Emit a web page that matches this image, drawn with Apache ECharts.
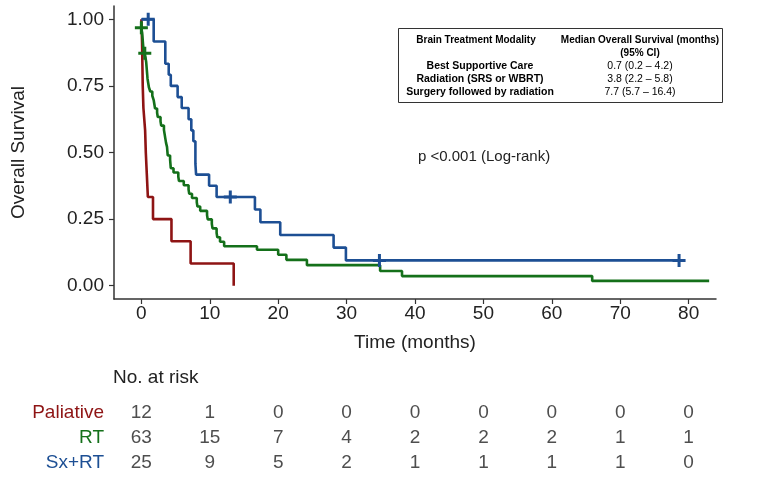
<!DOCTYPE html>
<html><head><meta charset="utf-8">
<script src="https://cdn.jsdelivr.net/npm/echarts@6/dist/echarts.min.js"></script>
<style>html,body{margin:0;padding:0;background:#fff}#c{width:762px;height:478px}</style>
</head><body><div id="c"></div>
<script>
// ---- data ----
const groups = ['Paliative', 'RT', 'Sx+RT'];
const timeTicks = [0, 10, 20, 30, 40, 50, 60, 70, 80];
const survTicks = [0, 0.25, 0.5, 0.75, 1];

const palTime = [0, 0.1, 0.15, 0.2, 0.3, 0.55, 0.65, 0.8, 0.95, 1.7, 4.4, 7.2, 13.5];
const palSurv = [1, 0.917, 0.833, 0.75, 0.667, 0.583, 0.5, 0.417, 0.333, 0.25, 0.167, 0.083, 0];

const rtTime = [0, 0.1, 0.15, 0.2, 0.25, 0.3, 0.4, 0.6, 0.7, 0.75,
                0.8, 0.85, 0.9, 1.0, 1.1, 1.3, 1.6, 1.8, 1.9, 2.0,
                2.3, 2.4, 2.8, 2.9, 3.3, 3.4, 3.5, 3.6, 3.75, 3.8,
                3.85, 4.2, 4.25, 4.3, 4.7, 5.4, 5.5, 6.2, 6.9, 7.0,
                7.4, 8.1, 8.2, 8.6, 9.6, 9.7, 10.3, 10.4, 11.0, 11.1,
                11.5, 12.1, 16.9, 20.0, 21.2, 24.2, 34.9, 38.1, 65.9, 83.0];
const rtSurv = [0.968, 0.952, 0.937, 0.921, 0.905, 0.889, 0.873, 0.857, 0.841, 0.825,
                0.809, 0.793, 0.777, 0.761, 0.745, 0.729, 0.713, 0.697, 0.681, 0.665,
                0.649, 0.633, 0.617, 0.601, 0.585, 0.569, 0.553, 0.537, 0.521, 0.505,
                0.489, 0.473, 0.457, 0.441, 0.425, 0.409, 0.393, 0.377, 0.361, 0.345,
                0.329, 0.313, 0.297, 0.281, 0.265, 0.249, 0.232, 0.215, 0.198, 0.182,
                0.165, 0.148, 0.135, 0.116, 0.097, 0.077, 0.055, 0.036, 0.018, 0.018];

const sxTime = [0, 1.8, 3.5, 4.0, 4.3, 5.3, 5.9, 6.9, 7.3, 7.6, 7.9, 8.0, 9.9, 11.0, 16.6, 17.4, 20.3, 28.1, 29.9, 78.6];
const sxSurv = [1, 0.917, 0.833, 0.792, 0.75, 0.708, 0.667, 0.625, 0.583, 0.542, 0.458, 0.417, 0.375, 0.333, 0.286, 0.238, 0.190, 0.143, 0.095, 0.095];

const rtCensorTime = [0, 0.5];
const rtCensorSurv = [0.968, 0.873];
const sxCensorTime = [1.0, 13.0, 34.8, 78.6];
const sxCensorSurv = [1, 0.333, 0.095, 0.095];

const riskPal = [12, 1, 0, 0, 0, 0, 0, 0, 0];
const riskRT  = [63, 15, 7, 4, 2, 2, 2, 1, 1];
const riskSx  = [25, 9, 5, 2, 1, 1, 1, 1, 0];

const tableHeader = ['Brain Treatment Modality', 'Median Overall Survival (months)', '(95% CI)'];
const tableRows = ['Best Supportive Care', 'Radiation (SRS or WBRT)', 'Surgery followed by radiation'];
const tableValues = ['0.7 (0.2 \u2013 4.2)', '3.8 (2.2 \u2013 5.8)', '7.7 (5.7 \u2013 16.4)'];
const pText = 'p <0.001 (Log-rank)';

// ---- chart ----
const colors = ['#8E1414', '#14701A', '#1D4F94'];
const FONT = '"Liberation Sans", Arial, sans-serif';
const plus = 'path://M5,0H8V5H13V8H8V13H5V8H0V5H5Z';
const zip = (a, b) => a.map((t, i) => [t, b[i]]);
const risks = [riskPal, riskRT, riskSx];
const riskData = [];
groups.forEach((g, gi) => timeTicks.forEach((t, i) => riskData.push([t, g, risks[gi][i]])));

const chart = echarts.init(document.getElementById('c'), null, {renderer: 'canvas'});
const axisColor = '#333';
const option = {
  animation: false,
  textStyle: {fontFamily: FONT},
  grid: [
    {left: 114, right: 46, top: 6, bottom: 179},
    {left: 114, right: 46, top: 400, height: 75}
  ],
  xAxis: [
    {type: 'value', gridIndex: 0, min: -4, max: 84,
     axisLine: {onZero: false, lineStyle: {color: axisColor, width: 1.5}},
     axisTick: {customValues: timeTicks, length: 5, lineStyle: {color: axisColor, width: 1.2}},
     axisLabel: {customValues: timeTicks, fontSize: 19, color: '#222', margin: 5, fontFamily: FONT},
     splitLine: {show: false},
     name: 'Time (months)', nameLocation: 'middle', nameGap: 34,
     nameTextStyle: {fontSize: 19, color: '#222', fontFamily: FONT}},
    {type: 'value', gridIndex: 1, min: -4, max: 84, show: false}
  ],
  yAxis: [
    {type: 'value', gridIndex: 0, min: -0.05, max: 1.05,
     axisLine: {show: true, onZero: false, lineStyle: {color: axisColor, width: 1.5}},
     axisTick: {show: true, customValues: survTicks, length: 5, lineStyle: {color: axisColor, width: 1.2}},
     axisLabel: {customValues: survTicks, fontSize: 19, color: '#222', margin: 10, fontFamily: FONT,
                 formatter: v => Number(v).toFixed(2)},
     splitLine: {show: false},
     name: 'Overall Survival', nameLocation: 'middle', nameGap: 86, nameRotate: 90,
     nameTextStyle: {fontSize: 19, color: '#222', fontFamily: FONT}},
    {type: 'category', gridIndex: 1, data: groups, inverse: true,
     axisLine: {show: false}, axisTick: {show: false}, splitLine: {show: false},
     axisLabel: {fontSize: 19, margin: 10, fontFamily: FONT,
                 color: (v, i) => colors[groups.indexOf(v)]}}
  ],
  series: [
    {type: 'line', step: 'end', showSymbol: false, data: zip(palTime, palSurv),
     lineStyle: {color: colors[0], width: 2.6}, itemStyle: {color: colors[0]}, z: 2},
    {type: 'line', step: 'end', showSymbol: false, data: zip(rtTime, rtSurv),
     lineStyle: {color: colors[1], width: 2.6}, itemStyle: {color: colors[1]}, z: 3},
    {type: 'line', step: 'end', showSymbol: false, data: zip(sxTime, sxSurv),
     lineStyle: {color: colors[2], width: 2.6}, itemStyle: {color: colors[2]}, z: 4},
    {type: 'scatter', symbol: plus, symbolSize: 13, data: zip(rtCensorTime, rtCensorSurv),
     itemStyle: {color: colors[1], opacity: 1}, z: 5},
    {type: 'scatter', symbol: plus, symbolSize: 13, data: zip(sxCensorTime, sxCensorSurv),
     itemStyle: {color: colors[2], opacity: 1}, z: 6},
    {type: 'scatter', xAxisIndex: 1, yAxisIndex: 1, symbolSize: 1, data: riskData,
     itemStyle: {color: 'rgba(0,0,0,0)'},
     label: {show: true, position: 'inside', formatter: p => String(p.value[2]),
             fontSize: 19, color: '#222', fontFamily: FONT}}
  ],
  graphic: [
    {type: 'rect', left: 398, top: 28, shape: {width: 324, height: 74},
     style: {fill: '#fff', stroke: '#333', lineWidth: 1}, z: 10},
    {type: 'text', x: 476, y: 40, z: 11, style: {text: tableHeader[0], font: 'bold 10px ' + FONT, fill: '#000', align: 'center', verticalAlign: 'middle'}},
    {type: 'text', x: 640, y: 40, z: 11, style: {text: tableHeader[1], font: 'bold 10px ' + FONT, fill: '#000', align: 'center', verticalAlign: 'middle'}},
    {type: 'text', x: 640, y: 53, z: 11, style: {text: tableHeader[2], font: 'bold 10px ' + FONT, fill: '#000', align: 'center', verticalAlign: 'middle'}},
    ...tableRows.map((r, i) => ({type: 'text', x: 480, y: 66 + i * 13, z: 11,
      style: {text: r, font: 'bold 10.5px ' + FONT, fill: '#000', align: 'center', verticalAlign: 'middle'}})),
    ...tableValues.map((r, i) => ({type: 'text', x: 640, y: 66 + i * 13, z: 11,
      style: {text: r, font: '10.5px ' + FONT, fill: '#000', align: 'center', verticalAlign: 'middle'}})),
    {type: 'text', x: 418, y: 157, z: 11, style: {text: pText, font: '15px ' + FONT, fill: '#222', align: 'left', verticalAlign: 'middle'}},
    {type: 'text', x: 113, y: 378, z: 11, style: {text: 'No. at risk', font: '19px ' + FONT, fill: '#222', align: 'left', verticalAlign: 'middle'}}
  ]
};
chart.setOption(option);
</script>
</body></html>
